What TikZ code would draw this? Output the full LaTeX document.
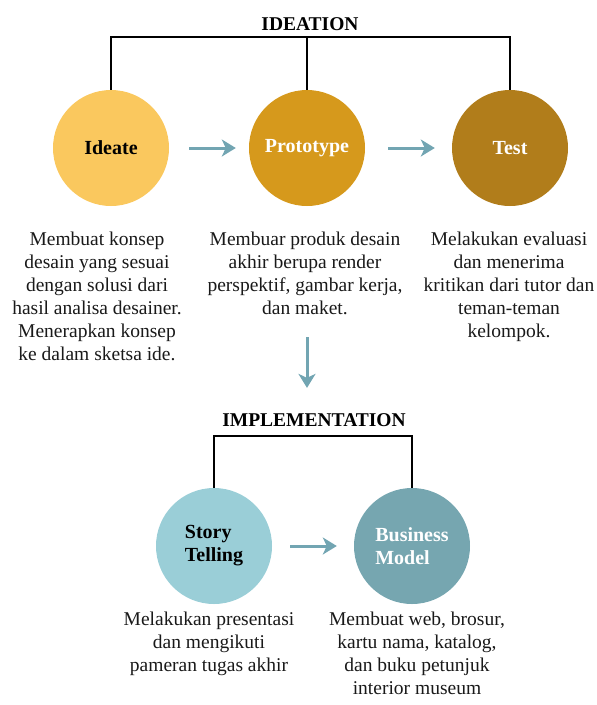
\documentclass[tikz,border=0pt]{standalone}
\usepackage{fontspec}
\setmainfont{Liberation Serif}
\usepackage{color}
\definecolor{myideate}{RGB}{250,200,94}
\definecolor{myproto}{RGB}{214,153,28}
\definecolor{mytest}{RGB}{177,125,27}
\definecolor{mystory}{RGB}{154,206,215}
\definecolor{mybusiness}{RGB}{118,166,176}
\definecolor{myarrow}{RGB}{114,165,178}
\definecolor{mytext}{RGB}{25,25,25}
\usepackage{tikz}
\usetikzlibrary{arrows.meta,positioning,calc}
\tikzstyle{phase}=[circle,minimum size=116pt,inner sep=0pt,font=\fontsize{20}{23}\selectfont\bfseries]
\tikzstyle{phasetitle}=[inner sep=0pt,anchor=base,font=\fontsize{19.5}{23}\selectfont\bfseries]
\tikzstyle{desc}=[align=center,inner sep=0pt,anchor=north,text=mytext,font=\fontsize{19.5}{23}\selectfont]
\tikzstyle{flow}=[draw=myarrow,line width=3pt,-{Stealth[length=14pt,width=17pt,inset=4pt]}]
\tikzstyle{bracket}=[draw=black,line width=1.7pt]

\begin{document}
\begin{tikzpicture}[x=1pt,y=-1pt]
\useasboundingbox (0,0) rectangle (597,705);
% ideation
\node [phasetitle] (ideation) at (310,30) {IDEATION};
\node [phase,fill=myideate] (ideate) at (111,148) {Ideate};
\node [phase,fill=myproto,text=white] (proto) at (307,148) {Prototype};
\node [phase,fill=mytest,text=white] (test) at (510,148) {Test};
\coordinate (ibar) at (310,37);
\draw [bracket] (ideate.north) |- (ibar) -| (test.north);
\draw [bracket] (proto.north) -- (proto.north |- ibar);
\draw [flow,shorten <=20pt,shorten >=13pt] (ideate) -- (proto);
\draw [flow,shorten <=23pt,shorten >=17pt] (proto) -- (test);

\node [desc] (ideatedesc) at (97,232) {Membuat konsep\\desain yang sesuai\\dengan solusi dari\\hasil analisa desainer.\\Menerapkan konsep\\ke dalam sketsa ide.};
\node [desc] (protodesc) at (305,232) {Membuar produk desain\\akhir berupa render\\perspektif, gambar kerja,\\dan maket.};
\node [desc] (testdesc) at (509,232) {Melakukan evaluasi\\dan menerima\\kritikan dari tutor dan\\teman-teman\\kelompok.};

% implementation
\node [phasetitle] (implementation) at (314,426) {IMPLEMENTATION};
\draw [flow,shorten <=22pt,shorten >=25pt] (protodesc.south -| proto) -- (implementation.north -| proto);
\node [phase,fill=mystory,align=left] (story) at (214,546) {Story\\Telling};
\node [phase,fill=mybusiness,text=white,align=left] (business) at (412,546) {Business\\Model};
\coordinate (pbar) at (314,436);
\draw [bracket] (story.north) |- (pbar) -| (business.north);
\draw [flow,shorten <=18pt,shorten >=17pt] (story) -- (business);

\node [desc] (storydesc) at (209,612) {Melakukan presentasi\\dan mengikuti\\pameran tugas akhir};
\node [desc] (businessdesc) at (417,612) {Membuat web, brosur,\\kartu nama, katalog,\\dan buku petunjuk\\interior museum};
\end{tikzpicture}
\end{document}
